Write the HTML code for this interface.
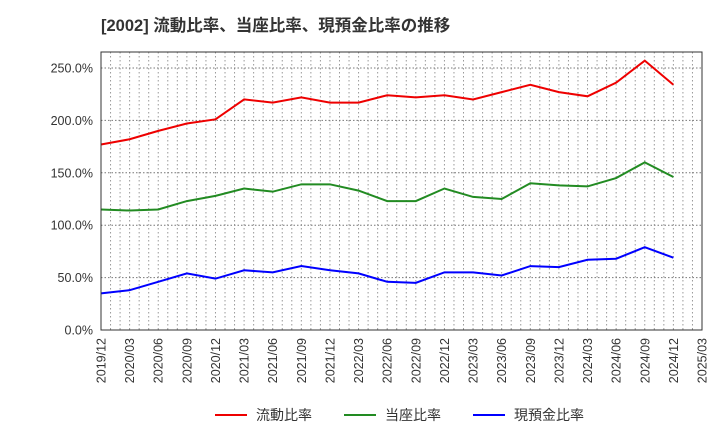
<!DOCTYPE html>
<html><head><meta charset="utf-8"><style>
body{margin:0;background:#fff;font-family:"Liberation Sans","Noto Sans CJK JP",sans-serif}
</style></head><body>
<svg width="720" height="440" xmlns="http://www.w3.org/2000/svg" id="chart" font-family="Liberation Sans, Noto Sans CJK JP, sans-serif">
<text x="101" y="31" font-size="16.5" font-weight="bold" fill="#333">[2002]  流動比率、当座比率、現預金比率の推移</text>
<g id="grid"></g>
<g id="axes"></g>
<g id="series"></g>
<rect x="101" y="52" width="601" height="278" fill="none" stroke="#333" stroke-width="1"/>
<g font-size="14" fill="#333">
<line x1="215" y1="415" x2="247" y2="415" stroke="#e00" stroke-width="2"/>
<text x="256" y="420">流動比率</text>
<line x1="344" y1="415" x2="376" y2="415" stroke="#228b22" stroke-width="2"/>
<text x="385" y="420">当座比率</text>
<line x1="473" y1="415" x2="505" y2="415" stroke="#00f" stroke-width="2"/>
<text x="514" y="420">現預金比率</text>
</g>
</svg>
<script>
const categories=["2019/12","2020/03","2020/06","2020/09","2020/12","2021/03","2021/06","2021/09","2021/12","2022/03","2022/06","2022/09","2022/12","2023/03","2023/06","2023/09","2023/12","2024/03","2024/06","2024/09","2024/12"];
const xTickLabels=["2019/12","2020/03","2020/06","2020/09","2020/12","2021/03","2021/06","2021/09","2021/12","2022/03","2022/06","2022/09","2022/12","2023/03","2023/06","2023/09","2023/12","2024/03","2024/06","2024/09","2024/12","2025/03"];
const yTicks=[0,50,100,150,200,250];
const currentRatio=[177,182,190,197,201,220,217,222,217,217,224,222,224,220,227,234,227,223,236,257,234];
const quickRatio=[115,114,115,123,128,135,132,139,139,133,123,123,135,127,125,140,138,137,145,160,146];
const cashRatio=[35,38,46,54,49,57,55,61,57,54,46,45,55,55,52,61,60,67,68,79,69];
const NS="http://www.w3.org/2000/svg";
const X0=101,X1=702,Y0=330,Y250=68;
const step=(X1-X0)/21;
const xs=i=>X0+i*step;
const ys=v=>Y0-(v/250)*(Y0-Y250);
function mk(t,a,p){const e=document.createElementNS(NS,t);for(const k in a)e.setAttribute(k,a[k]);p.appendChild(e);return e;}
const grid=document.getElementById('grid'),axes=document.getElementById('axes'),series=document.getElementById('series');
for(let m=1;m<63;m++){const x=X0+m*step/3;const l=mk('line',{x1:x,y1:52,x2:x,y2:330,stroke:'#999','stroke-width':1,'stroke-dasharray':'1.5,2.5'},grid);

}
yTicks.forEach(v=>{const y=ys(v);const l=mk('line',{x1:X0,y1:y,x2:X1,y2:y,stroke:'#777','stroke-width':1,'stroke-dasharray':'1.5,2'},grid);


const t=mk('text',{x:93,y:y+4.5,'text-anchor':'end','font-size':12.5,fill:'#333'},axes);t.textContent=v.toFixed(1)+'%';

});
xTickLabels.forEach((s,i)=>{const x=xs(i);const t=mk('text',{x:x+4.5,y:338,'text-anchor':'end','font-size':12.5,fill:'#333',transform:`rotate(-90 ${x+4.5} 338)`},axes);t.textContent=s;

});
[[currentRatio,'#e00','current-ratio-line'],[quickRatio,'#228b22','quick-ratio-line'],[cashRatio,'#00f','cash-ratio-line']].forEach(([d,c,n])=>{
const p=mk('polyline',{points:d.map((v,i)=>xs(i)+','+ys(v)).join(' '),fill:'none',stroke:c,'stroke-width':2},series);

});
</script>
</body></html>
